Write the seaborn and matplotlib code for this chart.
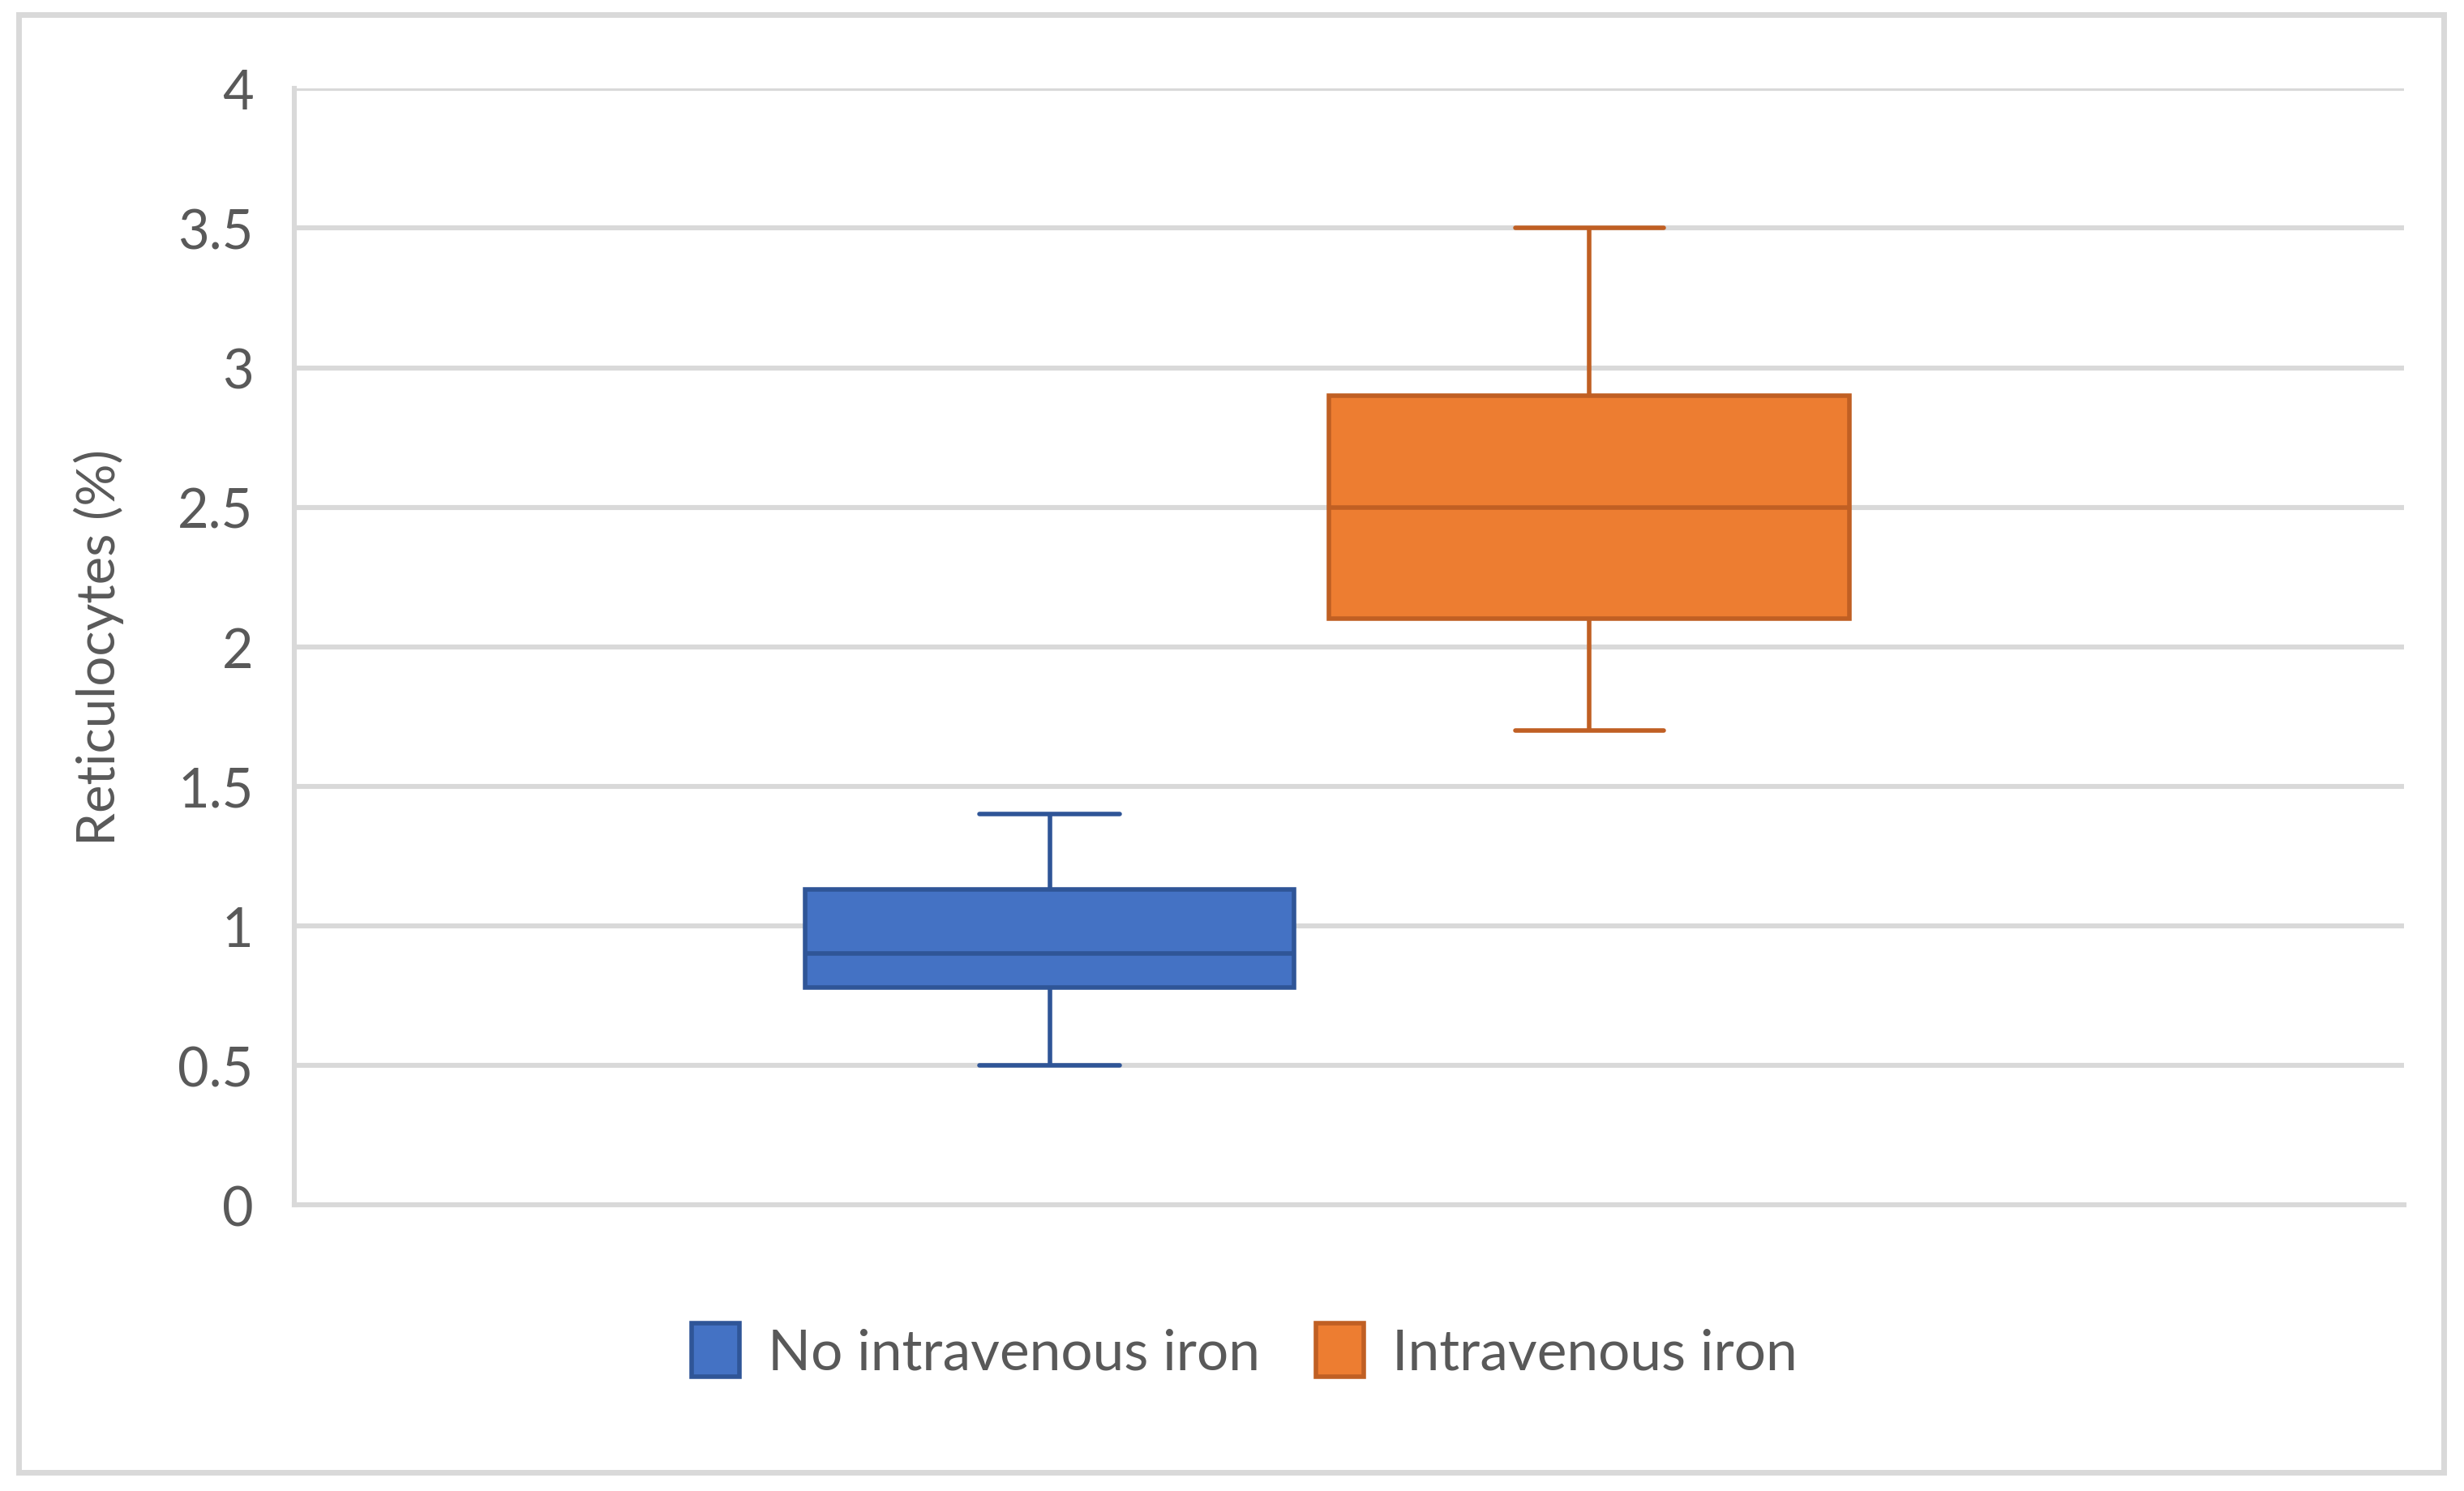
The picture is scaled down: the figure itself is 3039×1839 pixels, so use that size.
import pandas as pd
import seaborn as sns
import matplotlib.pyplot as plt
from matplotlib.patches import Patch, Rectangle

# five-number summaries: min, q1, median, q3, max
groups = ["No intravenous iron", "Intravenous iron"]
no_iv_iron = [0.5, 0.78, 0.9, 1.13, 1.4]
iv_iron = [1.7, 2.1, 2.5, 2.9, 3.5]
y_ticks = [0, 0.5, 1, 1.5, 2, 2.5, 3, 3.5, 4]
y_tick_labels = ["0", "0.5", "1", "1.5", "2", "2.5", "3", "3.5", "4"]

fills = ["#4472C4", "#ED7D31"]
edges = ["#2F5597", "#C05F23"]
box_widths = [0.905, 0.965]
cap_widths = [0.26, 0.275]
text_col = "#595959"
grid_col = "#D9D9D9"

df = pd.DataFrame({
    "group": [groups[0]] * len(no_iv_iron) + [groups[1]] * len(iv_iron),
    "value": no_iv_iron + iv_iron,
})

sns.set_theme(style="white")
plt.rcParams["font.family"] = ["Lato", "DejaVu Sans"]

fig = plt.figure(figsize=(15.195, 9.2), dpi=200)
ax = fig.add_axes([0.1193, 0.1918, 0.8565, 0.7482])

#one call per group so each box keeps its own outline colour
for g, fill, edge, w, cw in zip(groups, fills, edges, box_widths, cap_widths):
    sns.boxplot(data=df[df["group"] == g], x="group", y="value", order=groups,
                color=fill, linecolor=edge, linewidth=2.0, width=w,
                whis=(0, 100), capwidths=cw, saturation=1, ax=ax)

ax.set_xlim(-1.40, 2.51)
ax.set_ylim(0, 4)
ax.set_yticks(y_ticks)
ax.set_yticklabels(y_tick_labels)
ax.set_xticks([])
ax.set_xlabel("")
ax.set_ylabel("Reticulocytes (%)", fontsize=23.5, color=text_col, labelpad=24)
ax.tick_params(axis="y", length=0, pad=18, labelsize=24, labelcolor=text_col)

ax.yaxis.grid(True, color=grid_col, linewidth=2.2)
ax.set_axisbelow(True)
for side in ["top", "right"]:
    ax.spines[side].set_visible(False)
for side in ["left", "bottom"]:
    ax.spines[side].set_color(grid_col)
    ax.spines[side].set_linewidth(2.2)

handles = [Patch(facecolor=f, edgecolor=e, linewidth=2.0) for f, e in zip(fills, edges)]
fig.legend(handles, groups, loc="center", bbox_to_anchor=(0.505, 0.094), ncol=2,
           frameon=False, fontsize=25, labelcolor=text_col, handlelength=0.85,
           handleheight=1.1, handletextpad=0.5, columnspacing=1.0)

# light frame round the whole chart
fig.patches.append(Rectangle((0.0077, 0.0126), 0.984, 0.977, transform=fig.transFigure,
                             fill=False, edgecolor=grid_col, linewidth=2.5))

fig.savefig("out.png", dpi=200, facecolor="white")
